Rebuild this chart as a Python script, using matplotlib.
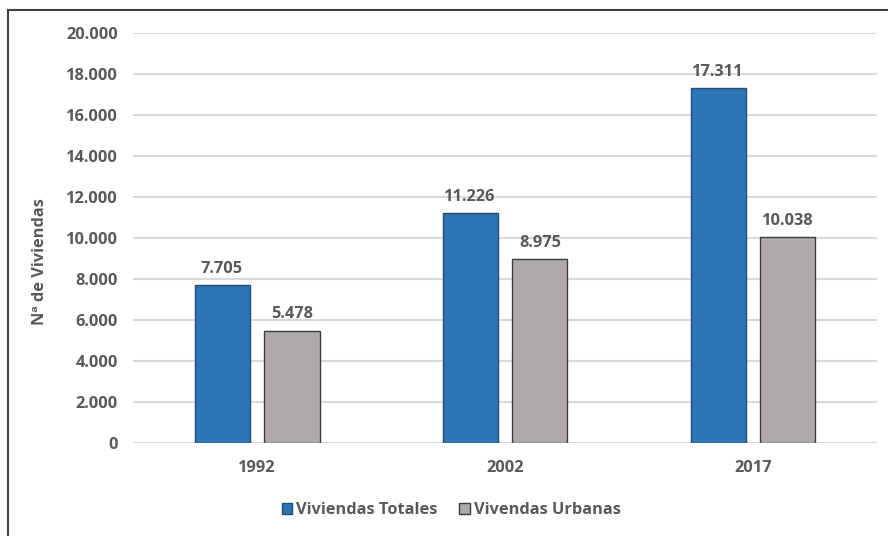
import matplotlib.pyplot as plt
import numpy as np
from matplotlib.patches import Rectangle
from matplotlib.ticker import FuncFormatter

plt.rcParams['font.family'] = ['Open Sans', 'DejaVu Sans']

# --- données ---
annees = ['1992', '2002', '2017']
viviendas_totales = [7705, 11226, 17311]
viviendas_urbanas = [5478, 8975, 10038]
noms_series = ['Viviendas Totales', 'Vivendas Urbanas']

GRIS_TEXTE = '#595959'
BLEU = '#2E75B6'
GRIS_BARRE = '#AEAAAA'
TAILLE = 11.8

def format_milliers(v, pos=None):
    # séparateur de milliers à l'espagnole : 20.000
    return f'{int(round(v)):,}'.replace(',', '.')

fig = plt.figure(figsize=(8.88, 5.36), dpi=100)
ax = fig.add_axes([0.1498, 0.1735, 0.8378, 0.7649])

x = np.arange(len(annees))
largeur = 0.222
decalage = 0.141

b1 = ax.bar(x - decalage, viviendas_totales, largeur, color=BLEU,
            edgecolor='#1F4E79', linewidth=1.0, label=noms_series[0], zorder=3)
b2 = ax.bar(x + decalage, viviendas_urbanas, largeur, color=GRIS_BARRE,
            edgecolor='#3A3A3A', linewidth=1.0, label=noms_series[1], zorder=3)

for barres in (b1, b2):
    for rect in barres:
        h = rect.get_height()
        ax.annotate(format_milliers(h), (rect.get_x() + rect.get_width() / 2, h),
                    xytext=(0, 6), textcoords='offset points', ha='center', va='bottom',
                    fontsize=TAILLE, fontweight='bold', color=GRIS_TEXTE)

ax.set_xlim(-0.5, 2.5)
ax.set_ylim(0, 20000)
ax.set_yticks(np.arange(0, 20001, 2000))
ax.yaxis.set_major_formatter(FuncFormatter(format_milliers))
ax.set_xticks(x)
ax.set_xticklabels(annees)
ax.tick_params(axis='both', length=0, labelsize=TAILLE, labelcolor=GRIS_TEXTE)
ax.tick_params(axis='y', pad=11)
ax.tick_params(axis='x', pad=12)
for lab in ax.get_xticklabels() + ax.get_yticklabels():
    lab.set_fontweight('bold')

ax.grid(axis='y', color='#D9D9D9', linewidth=1.5, zorder=0)
for s in ax.spines.values():
    s.set_visible(False)

fig.text(40 / 888, 1 - 262 / 536, 'Nª de Viviendas', rotation=90, ha='center', va='center',
         fontsize=TAILLE, fontweight='bold', color=GRIS_TEXTE)

leg = fig.legend(loc='center', bbox_to_anchor=(0.508, 0.048), ncol=2, frameon=False,
                 handlelength=0.65, handleheight=0.65, handletextpad=0.25, columnspacing=1.3,
                 prop={'size': TAILLE, 'weight': 'bold'})
for t in leg.get_texts():
    t.set_color(GRIS_TEXTE)

# cadre autour du graphique
cadre = Rectangle((8 / 888, -0.05), 1.0, 1 - 10 / 536 + 0.05, transform=fig.transFigure,
                  fill=False, edgecolor='#404040', linewidth=1.5)
fig.patches.append(cadre)

plt.savefig('out.png', dpi=100, facecolor='white')
